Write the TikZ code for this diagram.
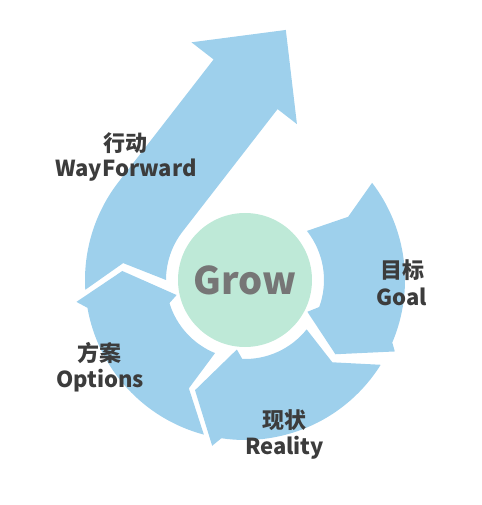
\documentclass[tikz,border=0pt]{standalone}
\usepackage{fontspec}
\newfontfamily\labelfont{Noto Sans CJK SC}
\usepackage{tikz}
\usetikzlibrary{calc}
\definecolor{growblue}{RGB}{158,208,236}
\definecolor{growmint}{RGB}{190,233,215}
\definecolor{lbltext}{RGB}{60,60,60}
\definecolor{hubtext}{RGB}{118,118,118}

\begin{document}
\begin{tikzpicture}[x=1pt,y=1pt,
    seg/.style={fill=growblue},
    hub/.style={circle,fill=growmint,minimum size=134pt,inner sep=0pt,
      text=hubtext,font=\labelfont\bfseries\fontsize{38}{38}\selectfont},
    lbl/.style={anchor=base,text=lbltext,inner sep=0pt,
      font=\labelfont\bfseries\fontsize{22}{26}\selectfont}]
    \useasboundingbox (-245,-225) rectangle (236,280);
    % Goal
    \fill[seg] (37.4:160) -- (31.5:121) -- (38.4:79)
      arc[start angle=38.4,end angle=-20,radius=79] -- (-27:70) -- (-39.4:117)
      -- (-25.5:166) -- (-23:160) arc[start angle=-23,end angle=37.4,radius=160] -- cycle;
    % Reality
    \fill[seg] (-32:160) -- (-43.3:120) -- (-38.7:79)
      arc[start angle=-38.7,end angle=-92,radius=79] -- (-96.7:70) -- (-114.4:121)
      -- (-101.2:169) -- (-98.5:160) arc[start angle=-98.5,end angle=-32,radius=160] -- cycle;
    % Options
    \fill[seg] (-104.9:160) -- (-117.4:122) -- (-112.3:79)
      arc[start angle=-112.3,end angle=-163,radius=79] -- (-167.6:70) -- (-184.2:123)
      -- (-172.6:170) -- (-170:160) arc[start angle=-170,end angle=-104.9,radius=160] -- cycle;
    % WayForward
    \fill[seg] (183.5:160) -- (172.1:123) -- (180:79)
      arc[start angle=180,end angle=142.2,radius=79]
      -- ($(142.2:79)+(52.2:155)$) -- ($(142.2:54.5)+(52.2:155)$)
      -- ($(142.2:121)+(52.2:222.6)$)
      -- ($(142.2:188)+(52.2:155)$) -- ($(142.2:160)+(52.2:155)$)
      -- (142.2:160) arc[start angle=142.2,end angle=183.5,radius=160] -- cycle;

    \node[hub] (grow) at (0,0) {Grow};

    \node[lbl] (actioncn) at (-119,128.5) {行动};
    \node[lbl] (actionen) at (-119,103) {WayForward};
    \node[lbl] (goalcn) at (157,1.5) {目标};
    \node[lbl] (goalen) at (157,-26) {Goal};
    \node[lbl] (optionscn) at (-145,-81.5) {方案};
    \node[lbl] (optionsen) at (-145,-107) {Options};
    \node[lbl] (realitycn) at (39.5,-148.5) {现状};
    \node[lbl] (realityen) at (39.5,-174.5) {Reality};
\end{tikzpicture}
\end{document}
